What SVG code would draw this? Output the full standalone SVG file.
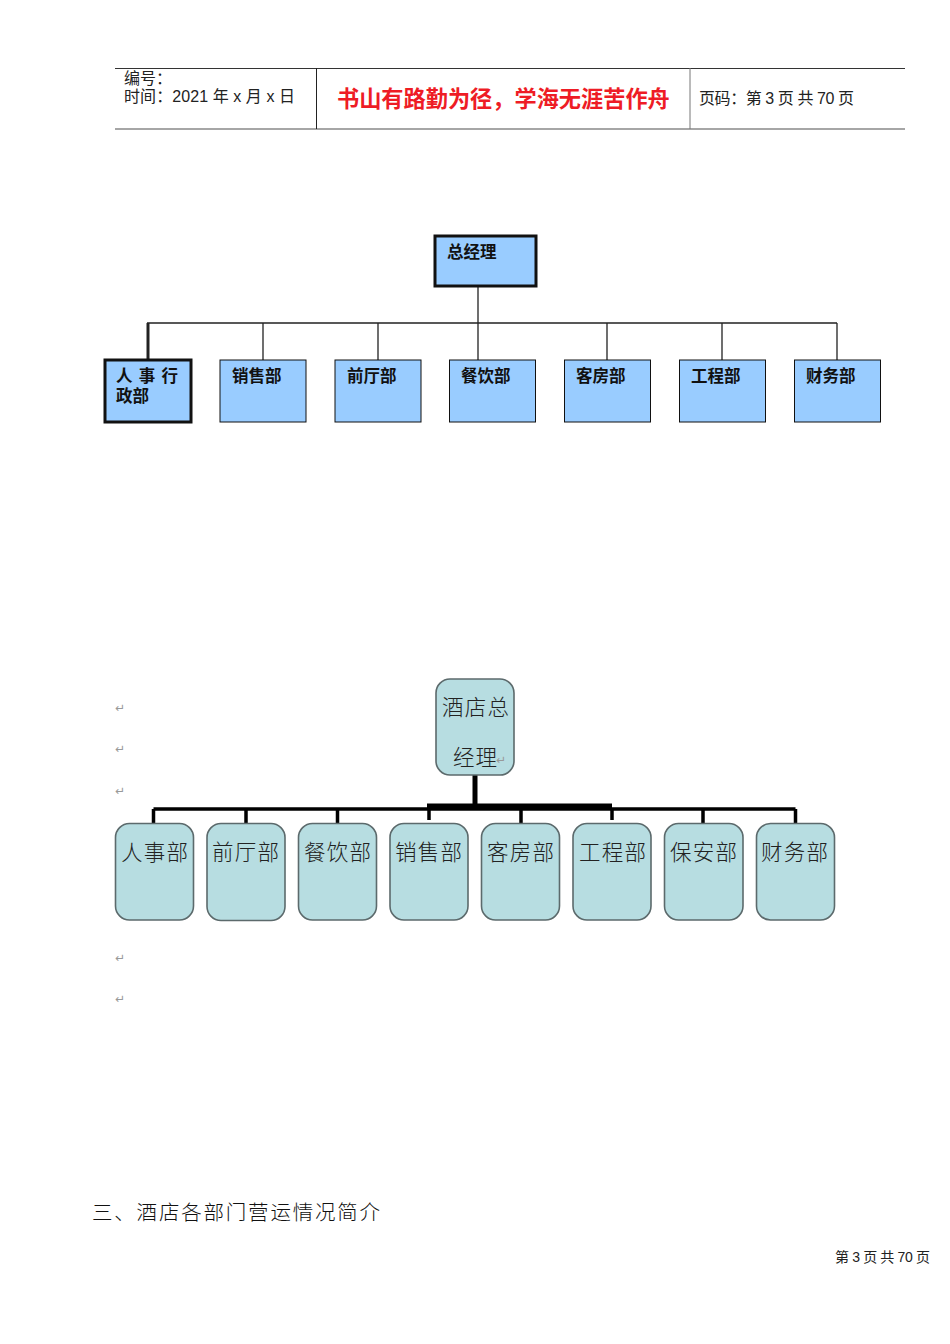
<svg xmlns="http://www.w3.org/2000/svg" width="950" height="1344" viewBox="0 0 950 1344">
<style>
text{font-family:"Liberation Sans","Noto Sans CJK SC",sans-serif;fill:#000}
.h{font-size:16px;fill:#222}
.r{font-size:22.2px;fill:#ee1c25;font-weight:700}
.a rect{fill:#99ccff;stroke:#111;stroke-width:1}
.a rect.k{stroke-width:3}
.a text{font-size:16.500px;font-weight:700;fill:#111}
.b rect{fill:#b7dde1;stroke:#5c6a6c;stroke-width:1.600}
.b text{font-size:21.500px;fill:#222;font-weight:300}
text.p,.b text.p{font-family:"DejaVu Sans",sans-serif;font-size:12px;fill:#999;font-weight:400}
.t{font-size:20.500px;fill:#111;font-weight:300;letter-spacing:1.800px}
.f{font-size:14px;fill:#222}
</style>
<rect width="950" height="1344" fill="#fff"/>
<g id="header">
<path d="M115 68.500H905" stroke="#333" fill="none"/>
<path d="M115 129H905" stroke="#888" stroke-width="1.500" fill="none"/>
<path d="M316.500 68V129" stroke="#222" fill="none"/>
<path d="M690 68V129" stroke="#777" fill="none"/>
<text class="h" x="124" y="84">编号：</text>
<text class="h" x="124" y="102" textLength="171" lengthAdjust="spacing">时间：2021 年 x 月 x 日</text>
<text class="r" x="337" y="107">书山有路勤为径，学海无涯苦作舟</text>
<text class="h" x="699" y="104" textLength="155" lengthAdjust="spacing">页码：第 3 页 共 70 页</text>
</g>
<g id="connectors">
<g fill="none" stroke="#222" stroke-width="1.300">
<path d="M478 286V360M147 323H837M263 323V360M378 323V360M607 323V360M722 323V360M837 323V360"/>
<path d="M148 323V360" stroke-width="3"/>
</g>
<g fill="none" stroke="#000" stroke-width="3.500">
<path d="M153.500 809H795.500M153.500 809V823M246 809V823M337.500 809V823M429 809V820M521 809V823M612 809V820M703 809V823M795.500 809V823"/>
<path d="M475 775V806" stroke-width="5"/>
<path d="M427 806.500H612" stroke-width="6"/>
</g>
</g>
<g class="a">
<g id="a-root"><rect class="k" x="435" y="236" width="101" height="50"/><text x="447" y="258">总经理</text></g>
<g id="a-hr"><rect class="k" x="105" y="360" width="86" height="62"/><text x="116" y="382" textLength="62">人 事 行</text><text x="116" y="402">政部</text></g>
<g id="a-sales"><rect x="220" y="360" width="86" height="62"/><text x="232" y="382">销售部</text></g>
<g id="a-front"><rect x="335" y="360" width="86" height="62"/><text x="347" y="382">前厅部</text></g>
<g id="a-food"><rect x="449.500" y="360" width="86" height="62"/><text x="461" y="382">餐饮部</text></g>
<g id="a-room"><rect x="564.500" y="360" width="86" height="62"/><text x="576" y="382">客房部</text></g>
<g id="a-eng"><rect x="679.500" y="360" width="86" height="62"/><text x="691" y="382">工程部</text></g>
<g id="a-fin"><rect x="794.500" y="360" width="86" height="62"/><text x="806" y="382">财务部</text></g>
</g>
<g class="b">
<g id="b-root"><rect x="436" y="679" width="78" height="96" rx="14"/><text x="442" y="715" textLength="67">酒店总</text><text x="453" y="765" textLength="44">经理</text><text class="p" x="496" y="764">↵</text></g>
<g id="b-hr"><rect x="115.500" y="823.500" width="78" height="96.500" rx="14"/><text x="121" y="860" textLength="67">人事部</text></g>
<g id="b-front"><rect x="207" y="823.500" width="78" height="97" rx="14"/><text x="212" y="860" textLength="67">前厅部</text></g>
<g id="b-food"><rect x="298.500" y="823.500" width="78" height="96.500" rx="14"/><text x="304" y="860" textLength="67">餐饮部</text></g>
<g id="b-sales"><rect x="390" y="823.500" width="78" height="96.500" rx="14"/><text x="395" y="860" textLength="67">销售部</text></g>
<g id="b-room"><rect x="481.500" y="823.500" width="78" height="96.500" rx="14"/><text x="487" y="860" textLength="67">客房部</text></g>
<g id="b-eng"><rect x="573" y="823.500" width="78" height="96.500" rx="14"/><text x="579" y="860" textLength="67">工程部</text></g>
<g id="b-sec"><rect x="664.500" y="823.500" width="78.500" height="96.500" rx="14"/><text x="670" y="860" textLength="67">保安部</text></g>
<g id="b-fin"><rect x="756.500" y="823.500" width="78" height="96.500" rx="14"/><text x="761" y="860" textLength="67">财务部</text></g>
</g>
<g id="marks">
<text class="p" x="115" y="712">↵</text>
<text class="p" x="115" y="753">↵</text>
<text class="p" x="115" y="795">↵</text>
<text class="p" x="115" y="962">↵</text>
<text class="p" x="115" y="1003">↵</text>
</g>
<text class="t" x="92" y="1220">三、酒店各部门营运情况简介</text>
<text class="f" x="835" y="1262" textLength="95" lengthAdjust="spacing">第 3 页 共 70 页</text>
</svg>
